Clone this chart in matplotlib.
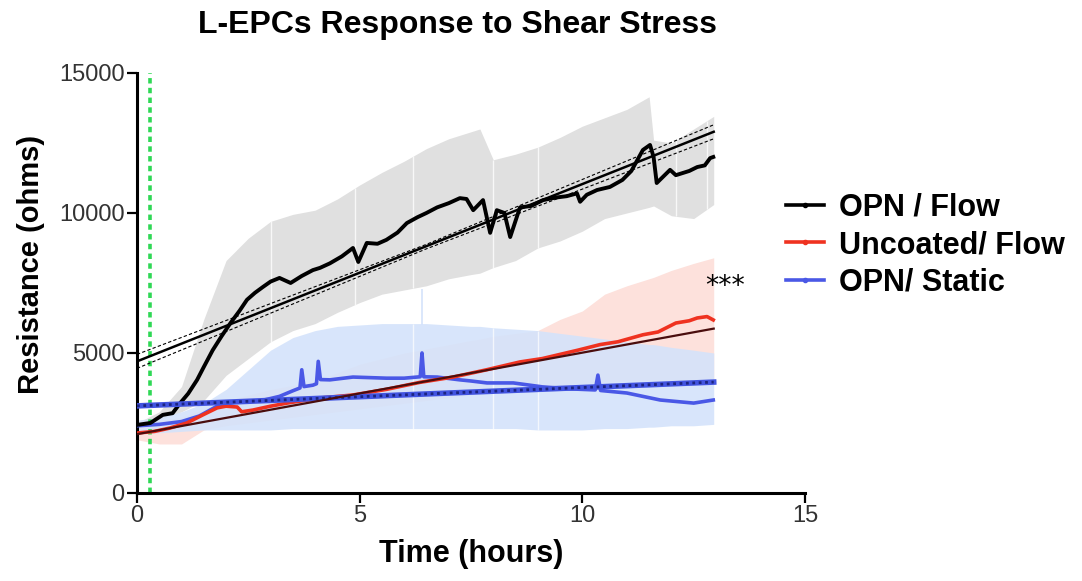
import matplotlib.pyplot as plt
from matplotlib.lines import Line2D
import numpy as np

plt.rcParams['font.family'] = ['Liberation Sans', 'DejaVu Sans']

# raw traces (time in hours, resistance in ohms)
opn_flow_x = [0, 0.3, 0.58, 0.8, 0.97, 1.15, 1.35, 1.5, 1.7, 1.9, 2.1, 2.3, 2.47, 2.65, 2.83, 3.0, 3.2,
              3.45, 3.7, 3.95, 4.11, 4.33, 4.6, 4.85, 4.97, 5.16, 5.4, 5.6, 5.85, 6.06, 6.3, 6.5, 6.74,
              7.0, 7.25, 7.4, 7.55, 7.77, 7.93, 8.08, 8.25, 8.38, 8.6, 8.85, 9.12, 9.4, 9.65, 9.88,
              9.95, 10.1, 10.33, 10.62, 10.9, 11.1, 11.36, 11.52, 11.6, 11.67, 11.97, 12.1, 12.26,
              12.4, 12.58, 12.75, 12.87, 12.94]
opn_flow_y = [2430, 2500, 2790, 2850, 3210, 3550, 4040, 4500, 5100, 5600, 6070, 6500, 6900, 7150, 7360,
              7550, 7680, 7500, 7750, 7960, 8040, 8200, 8450, 8750, 8250, 8930, 8900, 9040, 9300, 9640,
              9850, 10000, 10200, 10350, 10530, 10500, 10100, 10460, 9290, 10100, 10000, 9140, 10200,
              10250, 10460, 10550, 10600, 10700, 10400, 10650, 10820, 10930, 11180, 11500, 12250,
              12430, 12000, 11070, 11540, 11350, 11430, 11500, 11640, 11700, 11960, 12000]

uncoated_x = [0, 0.4, 0.74, 1.12, 1.48, 1.8, 2.0, 2.25, 2.35, 2.6, 3.0, 3.37, 4.1, 4.85, 5.6, 6.35, 7.1,
              7.85, 8.6, 9.1, 9.5, 9.9, 10.4, 10.8, 11.36, 11.7, 12.1, 12.4, 12.58, 12.8, 12.94]
uncoated_y = [2140, 2200, 2320, 2500, 2790, 3040, 3100, 3070, 2900, 2960, 3100, 3210, 3390, 3500, 3700,
              3950, 4140, 4400, 4680, 4800, 4950, 5100, 5300, 5400, 5650, 5750, 6070, 6150, 6250, 6300,
              6180]

static_x = [0, 0.5, 1.0, 1.4, 1.8, 2.2, 2.8, 3.2, 3.5, 3.66, 3.70, 3.75, 3.95, 4.03, 4.07, 4.12, 4.33,
            4.85, 5.6, 6.0, 6.36, 6.40, 6.44, 6.74, 7.25, 7.5, 7.86, 8.45, 9.1, 9.7, 10.29, 10.35,
            10.41, 11.0, 11.75, 12.5, 12.94]
static_y = [2400, 2450, 2550, 2750, 3100, 3250, 3300, 3450, 3650, 3750, 4400, 3800, 3850, 3900, 4700,
            4050, 4040, 4140, 4100, 4100, 4150, 5000, 4150, 4140, 4040, 4000, 3930, 3930, 3790, 3720,
            3680, 4210, 3660, 3570, 3320, 3210, 3320]

# error bands
band_x = [0, 0.5, 1.0, 1.5, 2.0, 2.5, 3.0, 3.5, 4.0, 4.5, 5.0, 5.5, 6.0, 6.5, 7.0, 7.5, 7.7, 8.0,
          8.5, 9.0, 9.5, 10.0, 10.5, 11.0, 11.5, 11.6, 12.0, 12.5, 12.95]
opn_flow_hi = [2500, 2900, 3800, 6200, 8300, 9100, 9700, 9950, 10100, 10500, 11000, 11450, 11850,
               12300, 12650, 12900, 13000, 11900, 12100, 12350, 12700, 13100, 13400, 13700, 14150,
               12600, 12500, 13000, 13450]
opn_flow_lo = [2300, 2600, 2900, 3300, 4200, 4800, 5400, 5800, 6050, 6450, 6800, 7100, 7250, 7400,
               7650, 7800, 7850, 8050, 8300, 8750, 9000, 9350, 9800, 10000, 10200, 10250, 9900, 9800,
               10300]
static_hi = [2600, 2700, 2900, 3200, 3700, 4400, 5100, 5550, 5800, 5950, 6000, 6050, 6050, 6050, 6000,
             5950, 5950, 5900, 5850, 5800, 5700, 5600, 5500, 5400, 5300, 5300, 5200, 5100, 5000]
static_lo = [2100, 2150, 2200, 2250, 2250, 2250, 2250, 2300, 2300, 2300, 2300, 2300, 2300, 2300, 2300,
             2300, 2300, 2300, 2300, 2250, 2250, 2250, 2300, 2300, 2350, 2350, 2400, 2400, 2450]
uncoated_hi = [2500, 2600, 2700, 3000, 3300, 3500, 3700, 3850, 4000, 4300, 4600, 4800, 5000, 5150,
               5300, 5450, 5500, 5600, 5700, 5800, 6200, 6500, 7100, 7400, 7650, 7700, 7950, 8200, 8400]
uncoated_lo = [1900, 1750, 1750, 2250, 2400, 2500, 2600, 2700, 2800, 2900, 3000, 3100, 3200, 3300,
               3400, 3500, 3550, 3600, 3700, 3800, 3850, 3900, 3950, 4000, 4000, 4000, 4000, 4000, 4000]

# linear fits
fit_x = [0, 12.95]
opn_flow_fit = [4700, 12900]
opn_flow_ci_x = [0, 6.5, 12.95]
opn_flow_ci_hi = [4950, 8880, 13150]
opn_flow_ci_lo = [4450, 8720, 12650]
uncoated_fit = [2100, 5870]
static_fit = [3110, 3960]

gap_x = [3.0, 4.9, 6.2, 8.0, 9.0, 12.1, 12.8]
flow_start = 0.3

fig = plt.figure(figsize=(10.82, 5.81), dpi=100)
ax = fig.add_axes([0.1266, 0.1515, 0.6174, 0.7229])

ax.fill_between(band_x, opn_flow_lo, opn_flow_hi, color='#e0e0e0', lw=0, zorder=1)
ax.fill_between(band_x, uncoated_lo, uncoated_hi, color='#fde1dc', lw=0, zorder=1.2)
ax.fill_between(band_x, static_lo, static_hi, color='#d4e3fb', lw=0, alpha=0.9, zorder=1.4)
ax.vlines(6.4, 6000, 7300, color='#d4e3fb', lw=1.2, zorder=1.4)
ax.vlines(gap_x, np.interp(gap_x, band_x, opn_flow_lo), np.interp(gap_x, band_x, opn_flow_hi),
          color='white', lw=1.0, alpha=0.8, zorder=1.5)
ax.vlines(gap_x[2:5], np.interp(gap_x[2:5], band_x, static_lo), np.interp(gap_x[2:5], band_x, static_hi),
          color='white', lw=1.0, alpha=0.7, zorder=1.5)

ax.axvline(flow_start, ymin=0, ymax=1, color='#2fd855', lw=2.6, ls=(0, (1.5, 1.2)), zorder=2)

ax.plot(static_x, static_y, color='#4a58e6', lw=2.6, zorder=4)
ax.plot(uncoated_x, uncoated_y, color='#ef3220', lw=2.6, zorder=4)
ax.plot(opn_flow_x, opn_flow_y, color='black', lw=2.8, zorder=5)

ax.plot(fit_x, static_fit, color='#4254e0', lw=4, zorder=6)
ax.plot(fit_x, static_fit, color='#1c2480', lw=2, ls=(0, (1, 1.3)), zorder=6)
ax.plot(fit_x, uncoated_fit, color='#4a0d0d', lw=1.6, zorder=6)
ax.plot(fit_x, opn_flow_fit, color='black', lw=1.8, zorder=6)
ax.plot(opn_flow_ci_x, opn_flow_ci_hi, color='black', lw=0.8, ls=(0, (3, 2)), zorder=6)
ax.plot(opn_flow_ci_x, opn_flow_ci_lo, color='black', lw=0.8, ls=(0, (3, 2)), zorder=6)

ax.text(12.75, 7350, '***', fontsize=19, family='DejaVu Sans', ha='left', va='center')

ax.set_xlim(0, 15)
ax.set_ylim(0, 15000)
ax.set_xticks([0, 5, 10, 15])
ax.set_yticks([0, 5000, 10000, 15000])
for s in ['top', 'right']:
    ax.spines[s].set_visible(False)
for s in ['left', 'bottom']:
    ax.spines[s].set_linewidth(2.2)
ax.tick_params(length=7, width=1.6, labelsize=17, labelcolor='#333333', pad=2)

ax.set_xlabel('Time (hours)', fontsize=22, fontweight='bold')
ax.set_ylabel('Resistance (ohms)', fontsize=21, fontweight='bold')
ax.xaxis.set_label_coords(0.5, -0.11)
ax.yaxis.set_label_coords(-0.138, 0.543)

fig.text(458 / 1082, 1 - 25 / 581, 'L-EPCs Response to Shear Stress', fontsize=23,
         fontweight='bold', ha='center', va='center')

handles = [Line2D([], [], color='black', lw=2.6, marker='o', ms=3),
           Line2D([], [], color='#ef3220', lw=2.6, marker='o', ms=3),
           Line2D([], [], color='#4a58e6', lw=2.6, marker='o', ms=3)]
labels = ['OPN / Flow', 'Uncoated/ Flow', 'OPN/ Static']
fig.legend(handles, labels, loc='center left', bbox_to_anchor=(786 / 1082, 1 - 245 / 581),
           frameon=False, prop={'size': 22, 'weight': 'bold'}, handlelength=1.25,
           handletextpad=0.5, labelspacing=0.25, borderpad=0, borderaxespad=0, numpoints=1)

fig.savefig('out.png', dpi=100)
